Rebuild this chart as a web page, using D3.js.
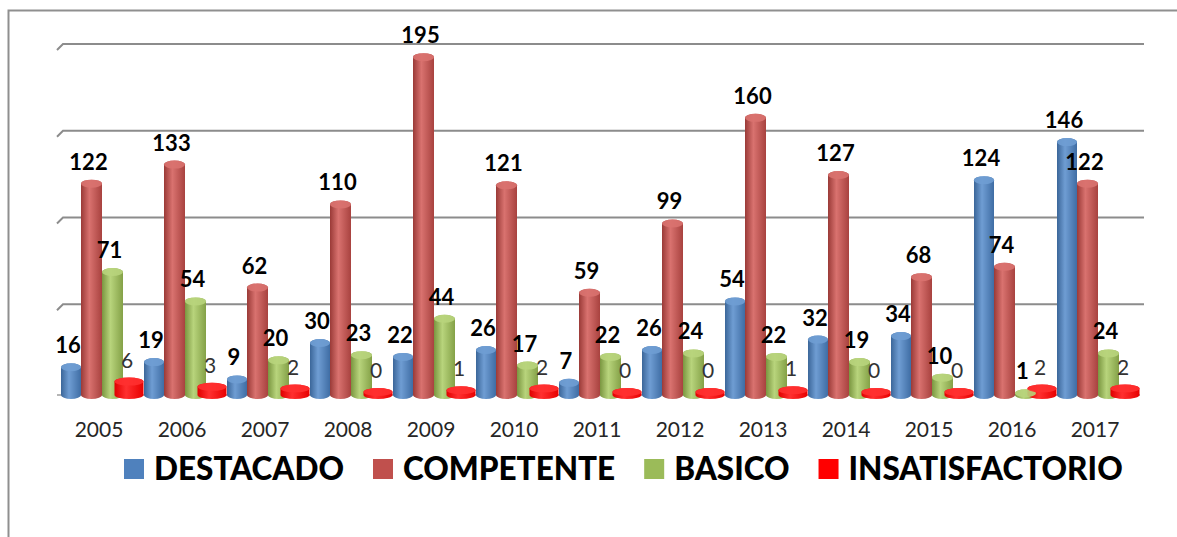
<!DOCTYPE html>
<html>
<head>
<meta charset="utf-8">
<script src="https://cdn.jsdelivr.net/npm/d3@7"></script>
<style>
  body { margin: 0; background: #fff; }
  svg { display: block; }
</style>
</head>
<body>
<div id="chart"></div>
<script>
const years = ['2005', '2006', '2007', '2008', '2009', '2010', '2011', '2012', '2013', '2014', '2015', '2016', '2017']
const seriesNames = ['DESTACADO', 'COMPETENTE', 'BASICO', 'INSATISFACTORIO']
const destacado = [16, 19, 9, 30, 22, 26, 7, 26, 54, 32, 34, 124, 146]
const competente = [122, 133, 62, 110, 195, 121, 59, 99, 160, 127, 68, 74, 122]
const basico = [71, 54, 20, 23, 44, 17, 22, 24, 22, 19, 10, 1, 24]
const insatisfactorio = [6, 3, 2, 0, 1, 2, 0, 0, 1, 0, 0, 2, 2]
const gridTicks = [50, 100, 150, 200]

const colors = {
  DESTACADO: ['#3b6699', '#6f9dd3', '#3f6da4'],
  COMPETENTE: ['#9a3a37', '#d9726f', '#a8423f'],
  BASICO: ['#7a9640', '#b8d47c', '#84a147'],
  INSATISFACTORIO: ['#e00000', '#ff3030', '#e80000']
}
const legendColors = ['#4f81bd', '#c0504d', '#9bbb59', '#ff0000']

const values = [destacado, competente, basico, insatisfactorio]
const rows = []
years.forEach((yr, i) => {
  seriesNames.forEach((s, j) => rows.push({year: yr, series: s, value: values[j][i]}))
})

const W = 1177, H = 537

const svg = d3.select('#chart').append('svg')
  .attr('width', W)
  .attr('height', H)

// frame
svg.append('rect')
  .attr('x', 8.5).attr('y', 10.5)
  .attr('width', 1300).attr('height', 700)
  .attr('fill', 'none')
  .attr('stroke', '#8f8f8f')
  .attr('stroke-width', 2)

const xscale = d3.scaleBand()
  .domain(years)
  .range([57.5, 1136.5])

const offset = d3.scaleOrdinal()
  .domain(seriesNames)
  .range([-28, -7.5, 13.5, 30])

const barWidth = d3.scaleOrdinal()
  .domain(seriesNames)
  .range([20, 21, 21, 29])

// back wall (gridlines) and front row (bars) sit at slightly different depths
const gridscale = d3.scaleLinear()
  .domain([0, 200])
  .range([391, 44])

const yscale = d3.scaleLinear()
  .domain([0, 200])
  .range([395, 48.5])

// gradients
const defs = svg.append('defs')
seriesNames.forEach((s, i) => {
  const g = defs.append('linearGradient')
    .attr('id', 'grad' + i)
    .attr('x1', '0%').attr('x2', '100%').attr('y1', '0%').attr('y2', '0%')
  g.append('stop').attr('offset', '0%').attr('stop-color', colors[s][0])
  g.append('stop').attr('offset', '40%').attr('stop-color', colors[s][1])
  g.append('stop').attr('offset', '100%').attr('stop-color', colors[s][2])
})

// gridlines
svg.append('g')
  .selectAll('path')
  .data(gridTicks)
  .enter()
  .append('path')
    .attr('d', d => `M57,${gridscale(d) + 6}L63,${gridscale(d)}L1144,${gridscale(d)}`)
    .attr('fill', 'none')
    .attr('stroke', '#8c8c8c')
    .attr('stroke-width', 2)

// floor
svg.append('path')
  .attr('d', `M57,${yscale(0)}L1140,${yscale(0)}`)
  .attr('stroke', '#b5b5b5')
  .attr('stroke-width', 2)

// cylinders
function cylinder(d) {
  const w = barWidth(d.series)
  const cx = xscale(d.year) + xscale.bandwidth() / 2 + offset(d.series)
  const x0 = cx - w / 2, x1 = cx + w / 2
  const ry = 4
  const top = yscale(d.value) - (d.series === 'INSATISFACTORIO' ? 3 : 0)
  const bot = yscale(0)
  return `M${x0},${top}L${x0},${bot}A${w / 2},${ry} 0 0 0 ${x1},${bot}L${x1},${top}A${w / 2},${ry} 0 0 0 ${x0},${top}Z`
}

const bars = svg.append('g')
bars.selectAll('path.bar')
  .data(rows)
  .enter()
  .append('path')
    .attr('class', 'bar')
    .attr('d', cylinder)
    .attr('fill', d => `url(#grad${seriesNames.indexOf(d.series)})`)

// cylinder tops
bars.selectAll('ellipse')
  .data(rows)
  .enter()
  .append('ellipse')
    .attr('cx', d => xscale(d.year) + xscale.bandwidth() / 2 + offset(d.series))
    .attr('cy', d => yscale(d.value) - (d.series === 'INSATISFACTORIO' ? 3 : 0))
    .attr('rx', d => barWidth(d.series) / 2)
    .attr('ry', 4)
    .attr('fill', d => colors[d.series][1])
    .attr('opacity', 0.9)

// value labels
svg.append('g')
  .selectAll('text')
  .data(rows)
  .enter()
  .append('text')
    .attr('x', d => xscale(d.year) + xscale.bandwidth() / 2 + offset(d.series) + (d.series === 'INSATISFACTORIO' ? -2 : -3))
    .attr('y', d => yscale(d.value) - (d.series === 'INSATISFACTORIO' ? 17 : 14))
    .attr('text-anchor', 'middle')
    .style('font-family', 'Lato, sans-serif')
    .style('font-size', d => d.series === 'INSATISFACTORIO' ? '21px' : '22px')
    .style('font-weight', d => d.series === 'INSATISFACTORIO' ? 'normal' : 'bold')
    .style('fill', d => d.series === 'INSATISFACTORIO' ? '#333' : '#000')
    .text(d => d.value)

// year labels
svg.append('g')
  .selectAll('text')
  .data(years)
  .enter()
  .append('text')
    .attr('x', d => xscale(d) + xscale.bandwidth() / 2)
    .attr('y', 437)
    .attr('text-anchor', 'middle')
    .style('font-family', 'Lato, sans-serif')
    .style('font-size', '21px')
    .style('fill', '#262626')
    .text(d => d)

// legend
const legend = svg.append('g')
let lx = 124
seriesNames.forEach((s, i) => {
  legend.append('rect')
    .attr('x', lx).attr('y', 459)
    .attr('width', 20).attr('height', 20)
    .attr('fill', legendColors[i])
  const t = legend.append('text')
    .attr('x', lx + 30)
    .attr('y', 480)
    .style('font-family', 'Lato, sans-serif')
    .style('font-size', '31.5px')
    .style('font-weight', '900')
    .style('fill', '#000')
    .text(s)
  lx = lx + 30 + t.node().getComputedTextLength() + 29
})
</script>
</body>
</html>
